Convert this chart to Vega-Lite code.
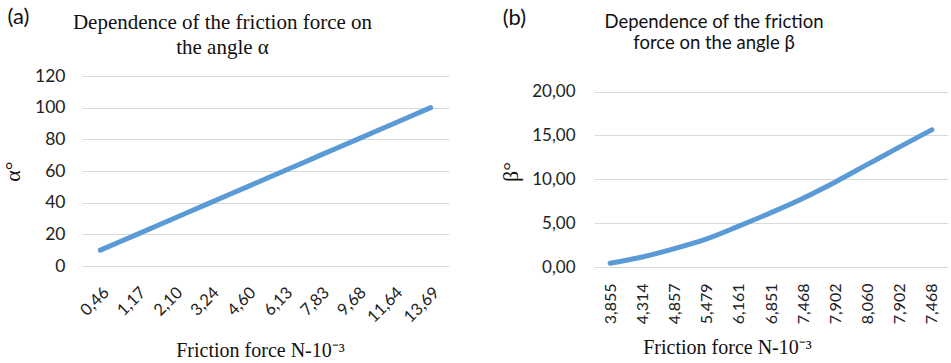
{
  "$schema": "https://vega.github.io/schema/vega-lite/v6.json",
  "padding": {"left": 1, "top": 6, "right": 0, "bottom": 0},
  "spacing": 50,
  "config": {
    "view": {"stroke": null},
    "axis": {
      "labelFont": "Lato",
      "labelColor": "#222222",
      "titleColor": "#111111",
      "titleFontWeight": "normal",
      "gridColor": "#d9d9d9",
      "gridWidth": 1,
      "domain": false,
      "ticks": false,
      "tickSize": 0
    }
  },
  "hconcat": [
    {
      "title": {"text": "(a)", "anchor": "start", "frame": "bounds", "offset": -17, "dx": 6, "font": "Lato", "fontSize": 22, "fontWeight": "normal", "color": "#111111"},
      "hconcat": [
        {
          "width": 367,
          "height": 190,
          "title": {
            "text": ["Dependence of the friction force on", "the angle α"],
            "font": "Liberation Serif",
            "fontSize": 21,
            "fontWeight": "normal",
            "lineHeight": 25,
            "color": "#111111",
            "anchor": "middle",
            "frame": "group",
            "dx": -43,
            "offset": 9
          },
          "data": {
            "values": [
              {"force": "0,46", "alpha": 10},
              {"force": "1,17", "alpha": 20},
              {"force": "2,10", "alpha": 30},
              {"force": "3,24", "alpha": 40},
              {"force": "4,60", "alpha": 50},
              {"force": "6,13", "alpha": 60},
              {"force": "7,83", "alpha": 70},
              {"force": "9,68", "alpha": 80},
              {"force": "11,64", "alpha": 90},
              {"force": "13,69", "alpha": 100}
            ]
          },
          "mark": {"type": "line", "color": "#5B9BD5", "strokeWidth": 5, "strokeCap": "round", "strokeJoin": "round", "interpolate": "monotone"},
          "encoding": {
            "x": {
              "field": "force",
              "type": "ordinal",
              "sort": null,
              "axis": {
                "title": "Friction force N-10⁻³",
                "titleFont": "Liberation Serif",
                "titleFontSize": 20,
                "titleX": 178,
                "titlePadding": 15,
                "labelAngle": -45,
                "labelFontSize": 16.5,
                "labelPadding": 18,
                "grid": false
              }
            },
            "y": {
              "field": "alpha",
              "type": "quantitative",
              "scale": {"domain": [0, 120], "nice": false},
              "axis": {
                "title": "α°",
                "titleFont": "Liberation Serif",
                "titleFontSize": 22,
                "titlePadding": 10,
                "values": [0, 20, 40, 60, 80, 100, 120],
                "labelFontSize": 17.5,
                "labelPadding": 17,
                "grid": true
              }
            }
          }
        }
      ]
    },
    {
      "title": {"text": "(b)", "anchor": "start", "frame": "bounds", "offset": -17, "dx": 3, "font": "Lato", "fontSize": 22, "fontWeight": "normal", "color": "#111111"},
      "hconcat": [
        {
          "width": 354,
          "height": 191,
          "title": {
            "text": ["Dependence of the friction", "force on the angle β"],
            "font": "Lato",
            "fontSize": 18.5,
            "fontWeight": "normal",
            "lineHeight": 20.5,
            "color": "#111111",
            "anchor": "middle",
            "frame": "group",
            "dx": -57,
            "offset": 24
          },
          "data": {
            "values": [
              {"force": "3,855", "beta": 0.43},
              {"force": "4,314", "beta": 1.14},
              {"force": "4,857", "beta": 2.09},
              {"force": "5,479", "beta": 3.2},
              {"force": "6,161", "beta": 4.66},
              {"force": "6,851", "beta": 6.2},
              {"force": "7,468", "beta": 7.85},
              {"force": "7,902", "beta": 9.7},
              {"force": "8,060", "beta": 11.7},
              {"force": "7,902\u200b", "beta": 13.7},
              {"force": "7,468\u200b", "beta": 15.65}
            ]
          },
          "mark": {"type": "line", "color": "#5B9BD5", "strokeWidth": 5, "strokeCap": "round", "strokeJoin": "round", "interpolate": "monotone"},
          "encoding": {
            "x": {
              "field": "force",
              "type": "ordinal",
              "sort": null,
              "axis": {
                "title": "Friction force N-10⁻³",
                "titleFont": "Liberation Serif",
                "titleFontSize": 20,
                "titleX": 133,
                "titlePadding": 14,
                "labelAngle": 270,
                "labelFontSize": 16,
                "labelPadding": 16,
                "grid": false
              }
            },
            "y": {
              "field": "beta",
              "type": "quantitative",
              "scale": {"domain": [0, 21.78], "nice": false},
              "axis": {
                "title": "β°",
                "titleFont": "Liberation Serif",
                "titleFontSize": 22,
                "titlePadding": 9,
                "values": [0, 5, 10, 15, 20],
                "labelExpr": "replace(format(datum.value, '.2f'), '.', ',')",
                "labelFontSize": 17,
                "labelPadding": 19,
                "grid": true
              }
            }
          }
        }
      ]
    }
  ]
}
